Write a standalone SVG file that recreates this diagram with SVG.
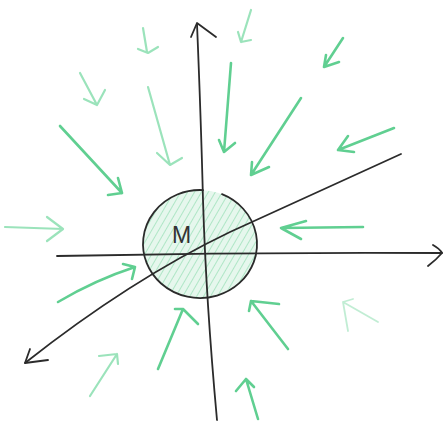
<svg xmlns="http://www.w3.org/2000/svg" width="443" height="428" viewBox="0 0 443 428">
<style>
.ax{fill:none;stroke:#2b2b2b;stroke-width:1.8;stroke-linecap:round;stroke-linejoin:round}
.g{fill:none;stroke:#4fca85;stroke-width:2.6;stroke-linecap:round;stroke-linejoin:round;opacity:0.9}
.gl{fill:none;stroke:#7ad9a4;stroke-width:2.2;stroke-linecap:round;stroke-linejoin:round;opacity:0.75}
.gf{fill:none;stroke:#a6e6c2;stroke-width:1.8;stroke-linecap:round;stroke-linejoin:round;opacity:0.7}
.h{stroke:#8fdcb0;stroke-width:1.6;opacity:0.8}
</style>
<defs>
<clipPath id="cc"><ellipse cx="200" cy="244" rx="57" ry="54"/></clipPath>
<pattern id="hatch" width="6" height="6" patternUnits="userSpaceOnUse" patternTransform="rotate(30)">
<rect width="6" height="6" fill="#e6f7ed"/>
<line x1="0" y1="0" x2="0" y2="6" class="h"/>
</pattern>
</defs>
<rect width="443" height="428" fill="#ffffff"/>
<g id="mass">
<ellipse cx="200" cy="244" rx="57" ry="54" fill="url(#hatch)" clip-path="url(#cc)"/>
<path class="ax" d="M222 194.2 A57 54 0 1 1 203 190.1"/>
<text x="172" y="243" font-family="Liberation Sans, sans-serif" font-size="23" fill="#333" textLength="25">M</text>
</g>
<g id="axes">
<path class="ax" d="M197 24 Q201 120 203 200 Q206 300 217 420"/>
<path class="ax" d="M191 37 L197 23 L216 37"/>
<path class="ax" d="M57 256 Q250 252 442 253"/>
<path class="ax" d="M433 245 Q440 249 442 253 Q436 260 428 266"/>
<path class="ax" d="M401 154 Q300 200 230 232 Q130 280 25 363"/>
<path class="ax" d="M30 349 L25 363 L48 360"/>
</g>
<g id="connectors">
<path class="gl" d="M143 28 L147 52 M138 49 L148 53 L158 47"/>
<path class="gl" d="M80 73 L97 105 M105 90 L97 105 L84 99"/>
<path class="gl" d="M148 87 L170 165 M157 153 L170 165 L182 158"/>
<path class="g" d="M60 126 L122 193 M118 178 L122 193 L108 195"/>
<path class="gl" d="M251 10 L241 42 M238 32 L241 42 L251 40"/>
<path class="g" d="M343 38 L324 67 M326 55 L324 67 L339 62"/>
<path class="g" d="M231 63 L224 152 M219 140 L224 152 L235 143"/>
<path class="g" d="M301 98 L251 175 M252 162 L251 175 L269 167"/>
<path class="g" d="M394 128 L338 150 M348 136 L338 150 L354 152"/>
<path class="gl" d="M5 227 L63 229 M47 217 L63 229 L47 241"/>
<path class="g" d="M58 302 Q95 280 135 267 M123 264 L135 267 L132 279"/>
<path class="gl" d="M90 396 L117 354 M99 356 L117 354 L118 364"/>
<path class="g" d="M158 369 L183 309 M175 309 L183 309 L198 324"/>
<path class="g" d="M363 227 L281 228 M306 221 L281 228 L301 239"/>
<path class="g" d="M288 349 L251 301 M279 304 L251 301 L249 311"/>
<path class="gf" d="M378 322 L343 302 M353 299 L343 302 L348 331"/>
<path class="g" d="M258 419 L246 379 M236 391 L246 379 L254 387"/>
</g>
</svg>
